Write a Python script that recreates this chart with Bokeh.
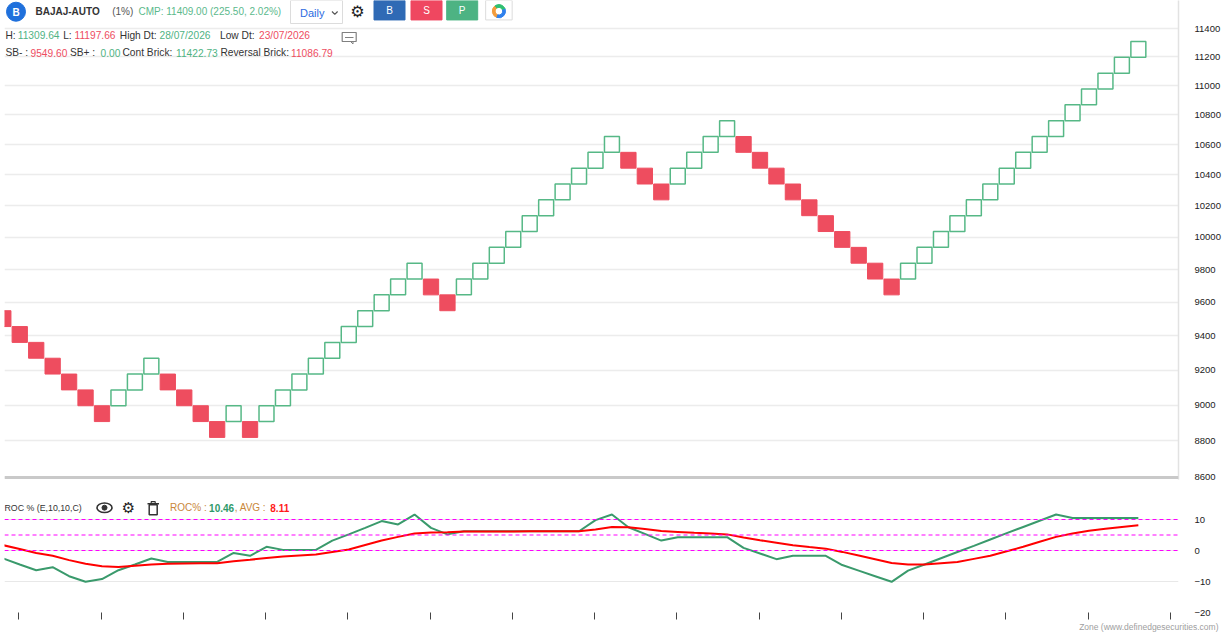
import math
from bokeh.plotting import figure
from bokeh.models import Range1d, FixedTicker, Span, Title
from bokeh.layouts import column
from bokeh.embed import file_html
from bokeh.resources import INLINE
from bokeh.core.properties import value

# ---------------- data ----------------
brick_low = [9455.06, 9361.45, 9268.76, 9176.99, 9086.13, 8996.17, 8907.10,
             8996.17, 9086.13, 9176.99,
             9086.13, 8996.17, 8907.10, 8818.91,
             8907.10, 8818.91,
             8907.10, 8996.17, 9086.13, 9176.99, 9268.76, 9361.45, 9455.06, 9549.61, 9645.11, 9741.56,
             9645.11, 9549.61,
             9645.11, 9741.56, 9838.97, 9937.36, 10036.73, 10137.10, 10238.47, 10340.85, 10444.26, 10548.70,
             10444.26, 10340.85, 10238.47,
             10340.85, 10444.26, 10548.70, 10654.19,
             10548.70, 10444.26, 10340.85, 10238.47, 10137.10, 10036.73, 9937.36, 9838.97, 9741.56, 9645.11,
             9741.56, 9838.97, 9937.36, 10036.73, 10137.10, 10238.47, 10340.85, 10444.26, 10548.70, 10654.19,
             10760.73, 10868.34, 10977.02, 11086.79, 11197.66]
brick_high = [9549.61, 9455.06, 9361.45, 9268.76, 9176.99, 9086.13, 8996.17,
              9086.13, 9176.99, 9268.76,
              9176.99, 9086.13, 8996.17, 8907.10,
              8996.17, 8907.10,
              8996.17, 9086.13, 9176.99, 9268.76, 9361.45, 9455.06, 9549.61, 9645.11, 9741.56, 9838.97,
              9741.56, 9645.11,
              9741.56, 9838.97, 9937.36, 10036.73, 10137.10, 10238.47, 10340.85, 10444.26, 10548.70, 10654.19,
              10548.70, 10444.26, 10340.85,
              10444.26, 10548.70, 10654.19, 10760.73,
              10654.19, 10548.70, 10444.26, 10340.85, 10238.47, 10137.10, 10036.73, 9937.36, 9838.97, 9741.56,
              9838.97, 9937.36, 10036.73, 10137.10, 10238.47, 10340.85, 10444.26, 10548.70, 10654.19, 10760.73,
              10868.34, 10977.02, 11086.79, 11197.66, 11309.64]
brick_dir = list("DDDDDDD" "UUU" "DDDD" "U" "D" "UUUUUUUUUU" "DD" "UUUUUUUUUU"
                 "DDD" "UUUU" "DDDDDDDDDD" "UUUUUUUUUUUUUUU")

roc_pct = [-2.6, -4.5, -6.35, -5.4, -8.3, -10.1, -9.2, -6.35, -4.5, -2.6,
           -3.7, -3.7, -3.7, -3.7, -0.8, -1.7, 1.2, 0.2, 0.2, 0.2,
           3.2, 5.2, 7.3, 9.5, 8.4, 11.6, 7.3, 5.2, 6.2, 6.2,
           6.2, 6.2, 6.2, 6.2, 6.2, 6.2, 9.8, 11.6, 7.5, 5.35,
           3.2, 4.3, 4.3, 4.3, 4.3, 0.85, -0.95, -2.8, -1.7, -1.7,
           -1.7, -4.7, -6.5, -8.3, -10.1, -6.5, -4.5, -2.5, -0.5, 1.5,
           3.55, 5.6, 7.6, 9.6, 11.6, 10.5, 10.5, 10.5, 10.5, 10.46]
roc_avg = [1.7, 0.5, -0.8, -1.7, -3.1, -4.3, -5.1, -5.3, -4.9, -4.5,
           -4.3, -4.2, -4.15, -4.1, -3.45, -3.0, -2.4, -1.9, -1.6, -1.3,
           -0.45, 0.3, 1.75, 3.2, 4.4, 5.5, 5.8, 5.9, 6.1, 6.1,
           6.15, 6.15, 6.2, 6.2, 6.2, 6.2, 6.8, 7.6, 7.5, 6.9,
           6.3, 6.0, 5.7, 5.45, 5.2, 4.2, 3.3, 2.5, 1.7, 1.1,
           0.6, -0.45, -1.6, -2.8, -4.0, -4.5, -4.5, -4.1, -3.7, -2.7,
           -1.7, -0.25, 1.2, 2.8, 4.4, 5.5, 6.4, 7.0, 7.6, 8.11]

price_ticks = [8600, 8800, 9000, 9200, 9400, 9600, 9800, 10000, 10200,
               10400, 10600, 10800, 11000, 11200, 11400]
roc_ticks = [20, 10, 0, -10, -20]
roc_levels = [10, 5, 0]
time_ticks = [0.95, 5.95, 10.95, 15.95, 20.95, 25.95, 30.95, 35.95,
              40.95, 45.95, 50.95, 55.95, 60.95, 65.95, 70.95]

cols = list(range(len(brick_low)))

FONT = value("Liberation Sans")
SYM = value("DejaVu Sans")
GREEN_TXT = "#4fb383"
RED_TXT = "#ee4d5f"
DARK = "#333333"
ORANGE = "#c9873a"


# pixel helpers, used only to place the UI chrome (header, icons)
def mx(px):
    return (px - 2.8) / 16.45


def my(py):
    return 11400 * math.exp(-(py - 28.3) / 1591.7)


def ry(py):
    return (550.3 - py) / 3.1


def add_text(p, x, y, text, color, size="10px", style="normal", align="left", font=FONT):
    p.text(x=[x], y=[y], text=[text], text_color=color, text_font_size=size,
           text_font_style=style, text_align=align, text_baseline="middle", text_font=font)


x_range = Range1d(mx(4), mx(1178))

# ---------------- main renko panel ----------------
p1 = figure(frame_width=1174, frame_height=479, x_range=x_range,
            y_range=Range1d(my(479), my(0)), y_axis_type="log",
            y_axis_location="right", x_axis_location=None,
            toolbar_location=None, output_backend="svg",
            min_border_left=4, min_border_right=44, min_border_top=0, min_border_bottom=6)
p1.outline_line_color = None
p1.background_fill_color = "white"
p1.border_fill_color = "white"
p1.xgrid.visible = False
p1.ygrid.grid_line_color = "#ececec"
p1.ygrid.grid_line_width = 1.3
p1.yaxis.ticker = FixedTicker(ticks=price_ticks)
p1.yaxis.major_label_overrides = {t: str(t) for t in price_ticks}
p1.yaxis.axis_line_color = "#e2e2e2"
p1.yaxis.axis_line_width = 1.5
p1.yaxis.major_tick_line_color = None
p1.yaxis.minor_tick_line_color = None
p1.yaxis.major_label_standoff = 10
p1.yaxis.major_label_text_font_size = "9.5px"
p1.yaxis.major_label_text_font = "Liberation Sans"
p1.yaxis.major_label_text_color = "#222222"

up = [i for i in cols if brick_dir[i] == "U"]
dn = [i for i in cols if brick_dir[i] == "D"]
p1.quad(left=[i - 0.465 for i in dn], right=[i + 0.465 for i in dn],
        bottom=[brick_low[i] for i in dn], top=[brick_high[i] for i in dn],
        fill_color="#ee4d5f", line_color="#ee4d5f", line_width=1)
p1.quad(left=[i - 0.455 for i in up], right=[i + 0.455 for i in up],
        bottom=[brick_low[i] for i in up], top=[brick_high[i] for i in up],
        fill_color="white", line_color="#56b886", line_width=1.5)

# bottom separator of the price panel
p1.add_layout(Span(location=8600, dimension="width", line_color="#c9c9c9", line_width=3))

# header row 1
p1.scatter(x=[mx(15.5)], y=[my(11.2)], size=19, marker="circle",
           fill_color="#1f70dc", line_color="#1f70dc")
add_text(p1, mx(15.5), my(11.5), "B", "white", "10px", "bold", "center")
add_text(p1, mx(35), my(10.5), "BAJAJ-AUTO", DARK, "10px", "bold")
add_text(p1, mx(111.7), my(10.5), "(1%)", "#555555", "10px")
add_text(p1, mx(138), my(10.5), "CMP: 11409.00 (225.50, 2.02%)", "#5bb98c", "10px")
p1.rect(x=[mx(316)], y=[my(11.5)], width=52, height=23, width_units="screen", height_units="screen",
        fill_color="white", line_color="#dcdcdc", line_width=1)
add_text(p1, mx(299.5), my(12.7), "Daily", "#2d6cdf", "11px")
p1.line(x=[mx(331.5), mx(334.3), mx(337.1)], y=[my(11), my(13.8), my(11)],
        line_color="#555555", line_width=1.2)
add_text(p1, mx(357), my(10.7), "\u2699", "#222222", "16px", "normal", "center", SYM)
for cx, col, letter in [(389, "#2f6ab5", "B"), (426, "#ef4760", "S"), (461.7, "#4db383", "P")]:
    p1.rect(x=[mx(cx)], y=[my(9.7)], width=31, height=19.5, width_units="screen", height_units="screen",
            fill_color=col, line_color=col)
    add_text(p1, mx(cx), my(10.2), letter, "white", "10px", "normal", "center")
p1.rect(x=[mx(498.4)], y=[my(9.7)], width=26.5, height=19.5, width_units="screen", height_units="screen",
        fill_color="white", line_color="#dcdcdc")
for a0, a1, col in [(0.3, 2.3, "#2fbf71"), (2.3, 4.4, "#f39c3c"), (4.4, 6.58, "#2f80ed")]:
    p1.annular_wedge(x=[mx(498.4)], y=[my(10.7)], inner_radius=3.8, outer_radius=6.6,
                     inner_radius_units="screen", outer_radius_units="screen",
                     start_angle=a0, end_angle=a1, fill_color=col, line_color=col)

# header row 2
row2 = [(5, "H:", DARK), (17.3, "11309.64", GREEN_TXT), (62.7, "L:", DARK),
        (74, "11197.66", RED_TXT), (119.3, "High Dt:", DARK), (159, "28/07/2026", GREEN_TXT),
        (219.5, "Low Dt:", DARK), (258.5, "23/07/2026", RED_TXT)]
for xp, t, c in row2:
    add_text(p1, mx(xp), my(34.8), t, c, "10.2px")
row3 = [(5, "SB- :", DARK), (30, "9549.60", RED_TXT), (69.5, "SB+ :", DARK),
        (100, "0.00", GREEN_TXT), (122, "Cont Brick:", DARK), (175.5, "11422.73", GREEN_TXT),
        (220, "Reversal Brick:", DARK), (290.5, "11086.79", RED_TXT)]
for xp, t, c in row3:
    add_text(p1, mx(xp), my(52.3), t, c, "10.2px")
# comment icon
p1.rect(x=[mx(348.7)], y=[my(36.5)], width=14, height=9, width_units="screen", height_units="screen",
        fill_color=None, line_color="#808080", line_width=1.2)
p1.line(x=[mx(344.5), mx(353)], y=[my(37), my(37)], line_color="#808080", line_width=1)
p1.line(x=[mx(350), mx(352.5), mx(352.5)], y=[my(41), my(43.5), my(41)], line_color="#808080", line_width=1)

# ---------------- ROC panel ----------------
p2 = figure(frame_width=1174, frame_height=124, x_range=x_range, y_range=Range1d(-20, 20),
            y_axis_location="right", x_axis_location="below",
            toolbar_location=None, output_backend="svg",
            min_border_left=4, min_border_right=44, min_border_top=3, min_border_bottom=21)
p2.outline_line_color = None
p2.background_fill_color = "white"
p2.border_fill_color = "white"
p2.xgrid.visible = False
p2.ygrid.grid_line_color = "#e8e8e8"
p2.ygrid.grid_line_width = 1.2
p2.yaxis.ticker = FixedTicker(ticks=roc_ticks)
p2.yaxis.major_label_overrides = {20: " "}
p2.yaxis.axis_line_color = None
p2.yaxis.major_tick_line_color = None
p2.yaxis.minor_tick_line_color = None
p2.yaxis.major_label_standoff = 10
p2.yaxis.major_label_text_font_size = "9.5px"
p2.yaxis.major_label_text_font = "Liberation Sans"
p2.yaxis.major_label_text_color = "#222222"
p2.xaxis.ticker = FixedTicker(ticks=time_ticks)
p2.xaxis.axis_line_color = None
p2.xaxis.major_tick_in = 0
p2.xaxis.major_tick_out = 7
p2.xaxis.major_tick_line_color = "#444444"
p2.xaxis.minor_tick_line_color = None
p2.xaxis.major_label_text_font_size = "0px"
p2.xaxis.major_label_text_color = None
p2.xaxis.major_label_standoff = 0

for lv in roc_levels:
    p2.add_layout(Span(location=lv, dimension="width", line_color="#ff00ff",
                       line_dash="4 3", line_width=1))

p2.line(cols, roc_pct, line_color="#3a9a6c", line_width=2)
p2.line(cols, roc_avg, line_color="#ff0000", line_width=2)

# ROC header
add_text(p2, mx(4), ry(507.5), "ROC % (E,10,10,C)", DARK, "8.8px")
p2.ellipse(x=[mx(104)], y=[ry(507.5)], width=15, height=9.5, width_units="screen", height_units="screen",
           fill_color=None, line_color="#333333", line_width=1.6)
p2.scatter(x=[mx(104)], y=[ry(507.5)], size=5, marker="circle", fill_color="#333333", line_color="#333333")
add_text(p2, mx(128), ry(507.5), "\u2699", "#222222", "15px", "normal", "center", SYM)
p2.rect(x=[mx(152.7)], y=[ry(509.5)], width=8, height=10, width_units="screen", height_units="screen",
        fill_color=None, line_color="#333333", line_width=1.5)
p2.line(x=[mx(147), mx(158.5)], y=[ry(503.5), ry(503.5)], line_color="#333333", line_width=1.6)
p2.line(x=[mx(150.7), mx(150.7), mx(154.7), mx(154.7)], y=[ry(503.5), ry(501.5), ry(501.5), ry(503.5)],
        line_color="#333333", line_width=1.2)
add_text(p2, mx(169.5), ry(507.5), "ROC% :", ORANGE, "10px")
add_text(p2, mx(208.6), ry(507.5), "10.46", "#2e9a6a", "10px", "bold")
add_text(p2, mx(234.2), ry(507.5), ", AVG :", ORANGE, "10px")
add_text(p2, mx(269.8), ry(507.5), "8.11", "#ff1a1a", "10px", "bold")

p2.add_layout(Title(text="Zone (www.definedgesecurities.com)", align="right", offset=-40,
                    standoff=0, text_font_size="8.5px", text_color="#a0a0a0",
                    text_font_style="normal", text_font="Liberation Sans"), "below")

layout = column(p1, p2)
open("out.html", "w").write(file_html(layout, INLINE))
